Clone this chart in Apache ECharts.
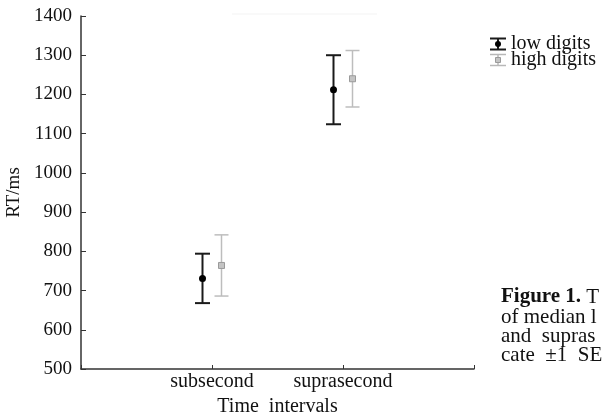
<!DOCTYPE html>
<html>
<head>
<meta charset="utf-8">
<script src="https://cdn.jsdelivr.net/npm/echarts@6/dist/echarts.min.js"></script>
<style>
html,body{margin:0;padding:0;background:#fff;}
#chart{width:608px;height:415px;}
</style>
</head>
<body>
<div id="chart"></div>
<script>
// ---- data ----
var categories = ['subsecond', 'suprasecond'];
var categoryPos = [1, 2];
var lowMean = [731, 1212];
var lowSE = [63, 88];
var highMean = [764, 1240];
var highSE = [78, 72];
var yTicks = [500, 600, 700, 800, 900, 1000, 1100, 1200, 1300, 1400];
var seriesNames = ['low digits', 'high digits'];
var captionLines = ['Figure 1.', 'of median l', 'and  supras', 'cate  \u00b11  SE'];

var FONT = '"Liberation Serif", "Times New Roman", serif';

function makeData(mean, se) {
  return categoryPos.map(function (x, i) { return [x, mean[i], se[i]]; });
}

function errorRenderer(offset, capW, color, lw, marker) {
  return function (params, api) {
    var x = api.value(0), m = api.value(1), s = api.value(2);
    var top = api.coord([x, m + s]);
    var bot = api.coord([x, m - s]);
    var mid = api.coord([x, m]);
    var cx = top[0] + offset;
    var st = { stroke: color, lineWidth: lw };
    var children = [
      { type: 'line', shape: { x1: cx, y1: top[1], x2: cx, y2: bot[1] }, style: st },
      { type: 'line', shape: { x1: cx - capW / 2, y1: top[1], x2: cx + capW / 2, y2: top[1] }, style: st },
      { type: 'line', shape: { x1: cx - capW / 2, y1: bot[1], x2: cx + capW / 2, y2: bot[1] }, style: st }
    ];
    if (marker === 'circle') {
      children.push({ type: 'circle', shape: { cx: cx, cy: mid[1], r: 3.5 }, style: { fill: '#000' } });
    } else {
      children.push({ type: 'rect', shape: { x: cx - 3, y: mid[1] - 3, width: 6, height: 6 }, style: { fill: '#c4c4c4', stroke: '#9a9a9a', lineWidth: 1 } });
    }
    return { type: 'group', children: children };
  };
}

var chart = echarts.init(document.getElementById('chart'), null, { renderer: 'canvas' });

var legendGraphic = [];
[['#1a1a1a', 'circle', 44], ['#b8b8b8', 'rect', 60]].forEach(function (cfg, i) {
  var cy = cfg[2], x0 = 490, w = 16, h = 11, cx = x0 + w / 2;
  var st = { stroke: cfg[0], lineWidth: i === 0 ? 2 : 1.5 };
  legendGraphic.push({ type: 'line', shape: { x1: x0, y1: cy - h / 2, x2: x0 + w, y2: cy - h / 2 }, style: st, silent: true });
  legendGraphic.push({ type: 'line', shape: { x1: x0, y1: cy + h / 2, x2: x0 + w, y2: cy + h / 2 }, style: st, silent: true });
  legendGraphic.push({ type: 'line', shape: { x1: cx, y1: cy - h / 2, x2: cx, y2: cy + h / 2 }, style: st, silent: true });
  if (cfg[1] === 'circle') {
    legendGraphic.push({ type: 'circle', shape: { cx: cx, cy: cy, r: 3 }, style: { fill: '#000' }, silent: true });
  } else {
    legendGraphic.push({ type: 'rect', shape: { x: cx - 2.5, y: cy - 2.5, width: 5, height: 5 }, style: { fill: '#c4c4c4', stroke: '#9a9a9a', lineWidth: 1 }, silent: true });
  }
  legendGraphic.push({ type: 'text', x: 511, y: cy, style: { text: seriesNames[i], font: '20px ' + FONT, fill: '#111', verticalAlign: 'middle', align: 'left' }, silent: true });
});

var capStyle = function (t, y) {
  return { type: 'text', x: 501, y: y, style: { text: t, fontSize: 21, fontFamily: FONT, fill: '#111', verticalAlign: 'middle' }, silent: true };
};
var captionGraphic = [
  { type: 'text', x: 501, y: 297, style: { text: '{b|' + captionLines[0] + '} T', rich: { b: { fontWeight: 'bold', fontSize: 21, fontFamily: FONT, fill: '#111' } }, fontSize: 21, fontFamily: FONT, fill: '#111', verticalAlign: 'middle' }, silent: true },
  capStyle(captionLines[1], 317),
  capStyle(captionLines[2], 336),
  capStyle(captionLines[3], 355),
  { type: 'line', shape: { x1: 232, y1: 14, x2: 377, y2: 14 }, style: { stroke: '#f3f3f3', lineWidth: 1 }, silent: true }
];

chart.setOption({
  animation: false,
  backgroundColor: '#fff',
  grid: { left: 81, right: 134, top: 16, bottom: 46, containLabel: false, outerBoundsMode: 'none' },
  xAxis: {
    type: 'value', min: 0, max: 3, interval: 1,
    name: 'Time  intervals', nameLocation: 'middle', nameGap: 26,
    nameTextStyle: { fontFamily: FONT, fontSize: 20, color: '#111' },
    axisLine: { show: true, lineStyle: { color: '#333', width: 1.5 } },
    axisTick: { show: true, inside: true, length: 4, lineStyle: { color: '#333' } },
    splitLine: { show: false },
    axisLabel: {
      fontFamily: FONT, fontSize: 20, color: '#111', margin: 3,
      formatter: function (v) { var i = categoryPos.indexOf(v); return i >= 0 ? categories[i] : ''; }
    }
  },
  yAxis: {
    type: 'value', min: yTicks[0], max: yTicks[yTicks.length - 1], interval: 100,
    name: 'RT/ms', nameLocation: 'middle', nameGap: 57, nameRotate: 90,
    nameTextStyle: { fontFamily: FONT, fontSize: 19, color: '#111' },
    axisLine: { show: true, lineStyle: { color: '#333', width: 1.5 } },
    axisTick: { show: true, inside: true, length: 5, lineStyle: { color: '#333' } },
    splitLine: { show: false },
    axisLabel: { fontFamily: FONT, fontSize: 19, color: '#111', margin: 9, formatter: function (v) { return String(v); } }
  },
  series: [
    { name: seriesNames[0], type: 'custom', data: makeData(lowMean, lowSE), renderItem: errorRenderer(-9.5, 15, '#1a1a1a', 2, 'circle'), z: 3 },
    { name: seriesNames[1], type: 'custom', data: makeData(highMean, highSE), renderItem: errorRenderer(9.5, 14, '#bdbdbd', 1.5, 'rect'), z: 2 }
  ],
  graphic: legendGraphic.concat(captionGraphic)
});
</script>
</body>
</html>
